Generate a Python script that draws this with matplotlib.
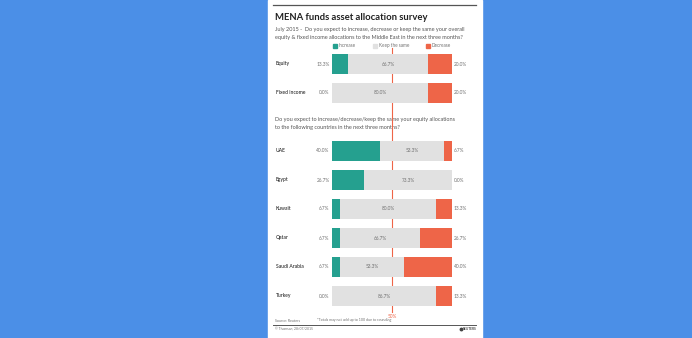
import matplotlib.pyplot as plt
import numpy as np

# survey answers, % of respondents
categories = ["Equity", "Fixed income", "UAE", "Egypt", "Kuwait", "Qatar", "Saudi Arabia", "Turkey"]
increase = [13.3, 0.0, 40.0, 26.7, 6.7, 6.7, 6.7, 0.0]
keep_same = [66.7, 80.0, 53.3, 73.3, 80.0, 66.7, 53.3, 86.7]
decrease = [20.0, 20.0, 6.7, 0.0, 13.3, 26.7, 40.0, 13.3]
rows = [0, 1, 3, 4, 5, 6, 7, 8]   # row slots, gap for second question

TEAL = "#25a08f"
GREY = "#e1e1e1"
RED = "#ee6548"
BLUE = "#4b8fe7"
DARK = "#333333"
MID = "#707070"

plt.rcParams['font.family'] = ['Lato', 'DejaVu Sans']

fig = plt.figure(figsize=(6.92, 3.38), dpi=100)
fig.patch.set_facecolor(BLUE)

# pixel overlay for the white card and the text
W, H = 692, 338
bg = fig.add_axes([0, 0, 1, 1])
bg.set_xlim(0, W)
bg.set_ylim(H, 0)
bg.axis("off")
bg.add_patch(plt.Rectangle((268, 0), 214, H, color="white", zorder=0))

# bars
ax = fig.add_axes([332 / W, 1 - 310.5 / H, 120 / W, 261 / H])
ax.patch.set_alpha(0)
inc = np.array(increase)
keep = np.array(keep_same)
dec = np.array(decrease)
ax.barh(rows, inc, height=0.69, color=TEAL, zorder=3)
ax.barh(rows, keep, left=inc, height=0.69, color=GREY, zorder=3)
ax.barh(rows, dec, left=inc + keep, height=0.69, color=RED, zorder=3)
ax.set_xlim(0, 100)
ax.set_ylim(8.5, -0.5)
ax.axis("off")

# 50% reference line
ax.axvline(50, ymin=-0.006, ymax=1.006, color=RED, lw=0.8, zorder=1, clip_on=False)
ax.text(50, 8.72, "50%", color=RED, fontsize=3.4, ha="center", va="center")

for r, name, a, b, c in zip(rows, categories, increase, keep_same, decrease):
    y_px = 64 + r * 29
    bg.text(276, y_px, name, fontsize=3.6, color=DARK, ha="left", va="center", fontweight="semibold")
    ax.text(-2, r, f"{a:.1f}%", fontsize=3.4, color=MID, ha="right", va="center")
    ax.text(a + b / 2, r, f"{b:.1f}%", fontsize=3.4, color=MID, ha="center", va="center", zorder=4)
    ax.text(101.5, r, f"{c:.1f}%", fontsize=3.4, color=MID, ha="left", va="center")

# header
bg.plot([273, 476], [5, 5], color="#555555", lw=0.9)
bg.text(275, 17, "MENA funds asset allocation survey", fontsize=6.8, fontweight="bold",
        color="#222222", ha="left", va="center")
bg.text(275, 30, "July 2015 -  Do you expect to increase, decrease or keep the same your overall",
        fontsize=4.0, color="#555555", ha="left", va="center")
bg.text(275, 37.5, "equity & fixed income allocations to the Middle East in the next three months?",
        fontsize=4.0, color="#555555", ha="left", va="center")

# legend
for x0, col, lab in [(335, TEAL, "Increase"), (375, GREY, "Keep the same"), (428, RED, "Decrease")]:
    bg.add_patch(plt.Rectangle((x0 - 2, 43.5), 4, 4, color=col))
    bg.text(x0 + 4, 45.5, lab, fontsize=3.3, color=MID, ha="left", va="center")

# second question
bg.text(275, 120, "Do you expect to increase/decrease/keep the same your equity allocations",
        fontsize=4.0, color="#555555", ha="left", va="center")
bg.text(275, 127.5, "to the following countries in the next three months?",
        fontsize=4.0, color="#555555", ha="left", va="center")

# footer
bg.text(275, 320.5, "Source: Reuters", fontsize=2.6, color=MID, ha="left", va="center")
bg.text(317, 320.5, "*Totals may not add up to 100 due to rounding", fontsize=2.6, color=MID,
        ha="left", va="center")
bg.plot([273, 476], [325, 325], color="#555555", lw=0.7)
bg.text(275, 329.5, "\u00a9 Thomson, 28/07/2015", fontsize=2.4, color=MID, ha="left", va="center")
bg.plot([461], [329], marker="o", ms=1.8, color="#444444")
bg.text(463, 329, "REUTERS", fontsize=2.3, fontweight="bold", color="#444444", ha="left", va="center")

fig.savefig("out.png", dpi=100, facecolor=BLUE)
